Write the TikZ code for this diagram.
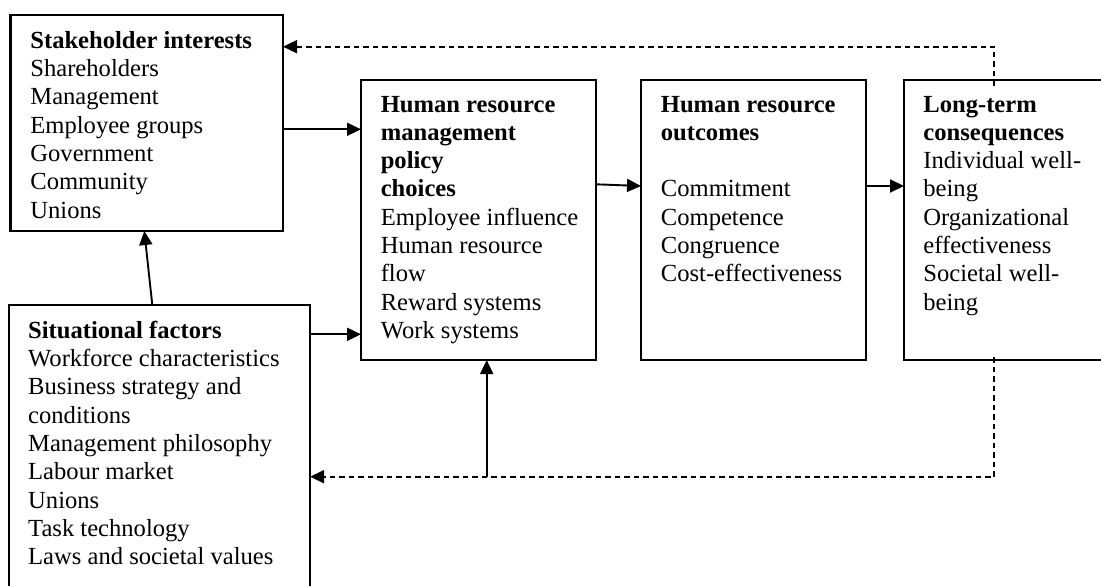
\documentclass[tikz,border=0pt]{standalone}
\usepackage{fontspec}
\setmainfont{Liberation Serif}
\usetikzlibrary{arrows.meta}
\begin{document}
\begin{tikzpicture}[x=1pt,y=-1pt,
  box/.style={draw, line width=2.2pt, anchor=north west, inner sep=0pt, outer sep=0pt},
  txt/.style={anchor=base west, inner sep=0pt, font=\fontsize{24.6}{28.3}\selectfont},
  arr/.style={line width=1.9pt, -{Triangle[length=14pt,width=13pt]}},
  dsh/.style={line width=1.9pt, dash pattern=on 5.5pt off 4pt},
  dsharr/.style={dsh, -{Triangle[length=14pt,width=13pt]}}]
\clip (0,0) rectangle (1101,586);
\fill[white] (0,0) rectangle (1101,586);
% boxes
\node[box, minimum width=272.5pt, minimum height=216.3pt] (sh) at (10.5,14.7) {};
\node[box, minimum width=235pt, minimum height=280pt] (hp) at (361,80) {};
\node[box, minimum width=225pt, minimum height=280pt] (ho) at (641,80) {};
\node[box, minimum width=230pt, minimum height=280pt] (lt) at (904,80) {};
\node[box, minimum width=301pt, minimum height=300pt] (sf) at (9.1,305) {};
% texts
\node[txt] (shT) at (30.2,48.3) {\parbox[t]{260pt}{\raggedright\textbf{Stakeholder interests}\\Shareholders\\Management\\Employee groups\\Government\\Community\\Unions}};
\node[txt] (hpT) at (380.6,112) {\parbox[t]{220pt}{\raggedright\textbf{Human resource}\\\textbf{management}\\\textbf{policy}\\\textbf{choices}\\Employee influence\\Human resource\\flow\\Reward systems\\Work systems}};
\node[txt] (hoT) at (660.7,112) {\parbox[t]{220pt}{\raggedright\textbf{Human resource}\\\textbf{outcomes}\\\mbox{}\\Commitment\\Competence\\Congruence\\Cost-effectiveness}};
\node[txt] (ltT) at (923.2,112) {\parbox[t]{200pt}{\raggedright\textbf{Long-term}\\\textbf{consequences}\\Individual well-\\being\\Organizational\\effectiveness\\Societal well-\\being}};
\node[txt] (sfT) at (28,338.3) {\parbox[t]{290pt}{\raggedright\textbf{Situational factors}\\Workforce characteristics\\Business strategy and\\conditions\\Management philosophy\\Labour market\\Unions\\Task technology\\Laws and societal values}};
% solid connectors
\draw[arr] (sh.east |- 0,129.3) -- (hp.west |- 0,129.3);
\draw[arr] (hp.east |- 0,184.3) -- (ho.west |- 0,186);
\draw[arr] (ho.east |- 0,186) -- (lt.west |- 0,186);
\draw[arr] (sf.north -| 152.3,0) -- (sh.south -| 144.3,0);
\draw[arr] (sf.east |- 0,334.3) -- (hp.west |- 0,334.3);
% feedback loops
\coordinate (t1) at (994.4,86);
\coordinate (t2) at (994.4,46.7);
\coordinate (b1) at (994.4,357);
\coordinate (b2) at (994.4,476.7);
\coordinate (j) at (486.7,476.7);
\draw[dsharr] (t1) -- (t2) -- (sh.east |- t2);
\draw[dsharr] (b1) -- (b2) -- (sf.east |- b2);
\draw[arr] (j) -- (hp.south -| j);
\end{tikzpicture}
\end{document}
